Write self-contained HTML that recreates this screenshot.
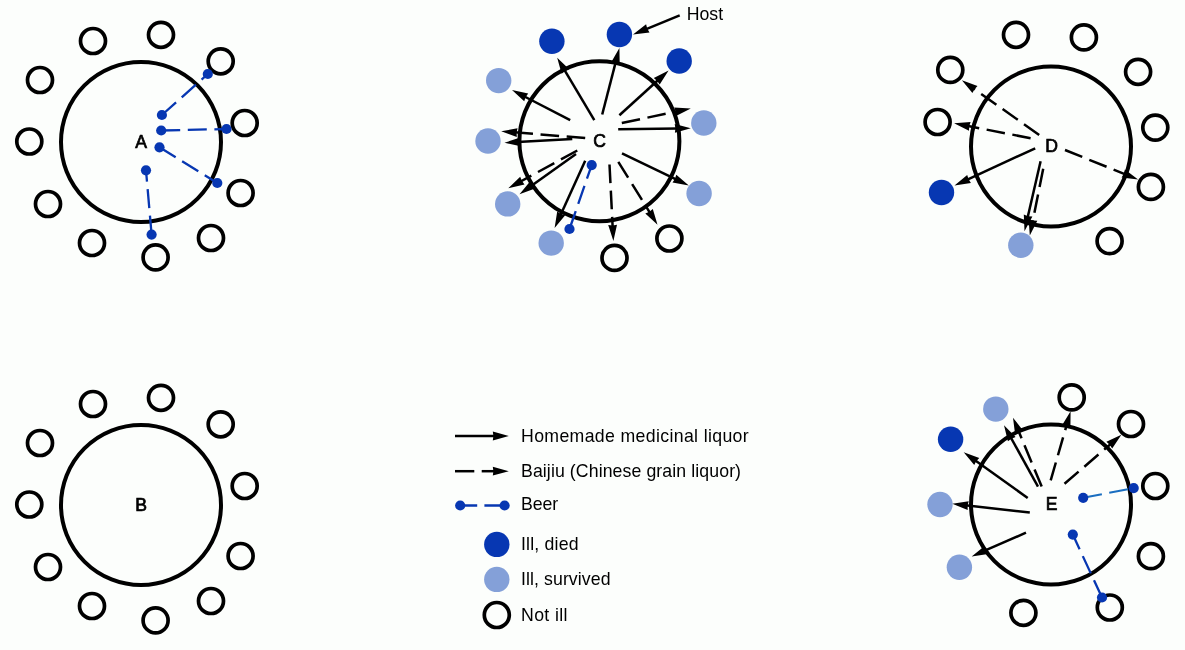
<!DOCTYPE html>
<html><head><meta charset="utf-8"><style>
html,body{margin:0;padding:0;background:#fcfefc;}
svg{display:block;will-change:transform;}
.lb{font-family:"Liberation Sans",sans-serif;font-weight:normal;font-size:17.6px;text-anchor:middle;fill:#000;stroke:#000;stroke-width:0.7px;}
.tx{font-family:"Liberation Sans",sans-serif;font-size:17.7px;fill:#000;}
</style></head><body>
<svg width="1185" height="650" viewBox="0 0 1185 650">
<rect width="1185" height="650" fill="#fcfefc"/>
<circle cx="141" cy="142" r="80" fill="none" stroke="#000" stroke-width="4"/>
<circle cx="93" cy="41" r="12.5" fill="none" stroke="#000" stroke-width="3.7"/>
<circle cx="161" cy="34.8" r="12.5" fill="none" stroke="#000" stroke-width="3.7"/>
<circle cx="220.7" cy="61.3" r="12.5" fill="none" stroke="#000" stroke-width="3.7"/>
<circle cx="244.7" cy="123" r="12.5" fill="none" stroke="#000" stroke-width="3.7"/>
<circle cx="240.6" cy="193" r="12.5" fill="none" stroke="#000" stroke-width="3.7"/>
<circle cx="211" cy="238" r="12.5" fill="none" stroke="#000" stroke-width="3.7"/>
<circle cx="155.6" cy="257.4" r="12.5" fill="none" stroke="#000" stroke-width="3.7"/>
<circle cx="92" cy="243" r="12.5" fill="none" stroke="#000" stroke-width="3.7"/>
<circle cx="48" cy="204" r="12.5" fill="none" stroke="#000" stroke-width="3.7"/>
<circle cx="29.3" cy="141.5" r="12.5" fill="none" stroke="#000" stroke-width="3.7"/>
<circle cx="40" cy="80" r="12.5" fill="none" stroke="#000" stroke-width="3.7"/>
<text x="141" y="148.3" class="lb">A</text>
<line x1="161.9" y1="115" x2="207.8" y2="74" stroke="#0737B2" stroke-width="2.3" stroke-dasharray="19 7.6"/>
<circle cx="161.9" cy="115" r="5.1" fill="#0737B2"/>
<circle cx="207.8" cy="74" r="5.1" fill="#0737B2"/>
<line x1="161.2" y1="130.5" x2="226.5" y2="129" stroke="#0737B2" stroke-width="2.3" stroke-dasharray="19 7.6"/>
<circle cx="161.2" cy="130.5" r="5.1" fill="#0737B2"/>
<circle cx="226.5" cy="129" r="5.1" fill="#0737B2"/>
<line x1="159.5" y1="147.3" x2="217.3" y2="183" stroke="#0737B2" stroke-width="2.3" stroke-dasharray="19 7.6"/>
<circle cx="159.5" cy="147.3" r="5.1" fill="#0737B2"/>
<circle cx="217.3" cy="183" r="5.1" fill="#0737B2"/>
<line x1="151.6" y1="234.6" x2="146" y2="170.3" stroke="#0737B2" stroke-width="2.3" stroke-dasharray="19 7.6"/>
<circle cx="146" cy="170.3" r="5.1" fill="#0737B2"/>
<circle cx="151.6" cy="234.6" r="5.1" fill="#0737B2"/>
<circle cx="141" cy="505" r="80" fill="none" stroke="#000" stroke-width="4"/>
<circle cx="93" cy="404" r="12.5" fill="none" stroke="#000" stroke-width="3.7"/>
<circle cx="161" cy="397.8" r="12.5" fill="none" stroke="#000" stroke-width="3.7"/>
<circle cx="220.7" cy="424.3" r="12.5" fill="none" stroke="#000" stroke-width="3.7"/>
<circle cx="244.7" cy="486" r="12.5" fill="none" stroke="#000" stroke-width="3.7"/>
<circle cx="240.6" cy="556" r="12.5" fill="none" stroke="#000" stroke-width="3.7"/>
<circle cx="211" cy="601" r="12.5" fill="none" stroke="#000" stroke-width="3.7"/>
<circle cx="155.6" cy="620.4" r="12.5" fill="none" stroke="#000" stroke-width="3.7"/>
<circle cx="92" cy="606" r="12.5" fill="none" stroke="#000" stroke-width="3.7"/>
<circle cx="48" cy="567" r="12.5" fill="none" stroke="#000" stroke-width="3.7"/>
<circle cx="29.3" cy="504.5" r="12.5" fill="none" stroke="#000" stroke-width="3.7"/>
<circle cx="40" cy="443" r="12.5" fill="none" stroke="#000" stroke-width="3.7"/>
<text x="141" y="511.3" class="lb">B</text>
<circle cx="599.4" cy="141.3" r="80" fill="none" stroke="#000" stroke-width="4"/>
<circle cx="551.9" cy="41.2" r="12.7" fill="#0737B2"/>
<circle cx="619.4" cy="34.5" r="12.7" fill="#0737B2"/>
<circle cx="679.2" cy="61" r="12.7" fill="#0737B2"/>
<circle cx="498.7" cy="80.6" r="12.7" fill="#84A0D8"/>
<circle cx="488" cy="141" r="12.7" fill="#84A0D8"/>
<circle cx="703.8" cy="123" r="12.7" fill="#84A0D8"/>
<circle cx="699.1" cy="193.5" r="12.7" fill="#84A0D8"/>
<circle cx="507.7" cy="203.9" r="12.7" fill="#84A0D8"/>
<circle cx="551.2" cy="243.1" r="12.7" fill="#84A0D8"/>
<circle cx="669.4" cy="238.5" r="12.5" fill="none" stroke="#000" stroke-width="3.7"/>
<circle cx="614.5" cy="257.9" r="12.5" fill="none" stroke="#000" stroke-width="3.7"/>
<text x="599.5" y="147" class="lb">C</text>
<line x1="594.3" y1="120.2" x2="563.8" y2="68.9" stroke="#000" stroke-width="2.5"/>
<polygon points="557.2,57.7 569.2,69.2 565.1,70.9 561.6,73.7" fill="#000"/>
<line x1="570.2" y1="120.2" x2="523.5" y2="96.0" stroke="#000" stroke-width="2.5"/>
<polygon points="512.0,90.0 528.2,93.5 525.7,97.1 524.2,101.3" fill="#000"/>
<line x1="585.2" y1="138.0" x2="514.2" y2="132.3" stroke="#000" stroke-width="2.5" stroke-dasharray="18.6 7.6"/>
<polygon points="501.2,131.3 517.5,128.2 516.6,132.5 516.8,137.0" fill="#000"/>
<line x1="572.3" y1="139.1" x2="517.5" y2="142.1" stroke="#000" stroke-width="2.5"/>
<polygon points="504.5,142.8 520.2,137.5 519.9,142.0 520.7,146.3" fill="#000"/>
<line x1="602.2" y1="114.5" x2="616.1" y2="60.6" stroke="#000" stroke-width="2.5"/>
<polygon points="619.4,48.0 619.7,64.6 615.5,62.9 611.1,62.4" fill="#000"/>
<line x1="619.4" y1="115.2" x2="659.0" y2="79.3" stroke="#000" stroke-width="2.5"/>
<polygon points="668.6,70.6 659.7,84.6 657.2,80.9 653.8,78.1" fill="#000"/>
<line x1="621.8" y1="123.0" x2="678.1" y2="111.2" stroke="#000" stroke-width="2.5" stroke-dasharray="18.6 7.6"/>
<polygon points="690.8,108.5 676.0,116.1 675.7,111.7 674.2,107.5" fill="#000"/>
<line x1="618.2" y1="129.2" x2="677.8" y2="128.4" stroke="#000" stroke-width="2.5"/>
<polygon points="690.8,128.2 674.9,132.8 675.4,128.4 674.7,124.0" fill="#000"/>
<line x1="577.3" y1="150.5" x2="519.7" y2="182.0" stroke="#000" stroke-width="2.5" stroke-dasharray="18.6 7.6"/>
<polygon points="508.3,188.2 520.2,176.7 521.8,180.8 524.5,184.4" fill="#000"/>
<line x1="576.0" y1="154.1" x2="530.1" y2="186.7" stroke="#000" stroke-width="2.5"/>
<polygon points="519.5,194.2 530.0,181.4 532.1,185.3 535.1,188.5" fill="#000"/>
<line x1="585.2" y1="160.8" x2="560.0" y2="216.2" stroke="#000" stroke-width="2.5"/>
<polygon points="554.6,228.0 557.2,211.6 561.0,214.0 565.2,215.3" fill="#000"/>
<line x1="609.5" y1="164.5" x2="612.7" y2="227.9" stroke="#000" stroke-width="2.5" stroke-dasharray="18.6 7.6"/>
<polygon points="613.4,240.9 608.2,225.1 612.6,225.5 617.0,224.7" fill="#000"/>
<line x1="618.3" y1="161.9" x2="650.6" y2="213.8" stroke="#000" stroke-width="2.5" stroke-dasharray="18.6 7.6"/>
<polygon points="657.5,224.8 645.3,213.5 649.4,211.7 652.8,208.9" fill="#000"/>
<line x1="622.0" y1="153.3" x2="677.1" y2="179.9" stroke="#000" stroke-width="2.5"/>
<polygon points="688.8,185.6 672.5,182.6 674.9,178.9 676.3,174.7" fill="#000"/>
<line x1="569.5" y1="229" x2="591.7" y2="165.1" stroke="#0737B2" stroke-width="2.3" stroke-dasharray="19 7.6"/>
<circle cx="591.7" cy="165.1" r="5.1" fill="#0737B2"/>
<circle cx="569.5" cy="229" r="5.1" fill="#0737B2"/>
<line x1="679.7" y1="15.3" x2="645.0" y2="29.6" stroke="#000" stroke-width="2.5"/>
<polygon points="633.0,34.5 646.1,24.3 647.2,28.6 649.5,32.5" fill="#000"/>
<text x="686.7" y="19.7" class="tx">Host</text>
<circle cx="1051" cy="146.5" r="80" fill="none" stroke="#000" stroke-width="4"/>
<circle cx="1016" cy="34.8" r="12.5" fill="none" stroke="#000" stroke-width="3.7"/>
<circle cx="1083.9" cy="37.4" r="12.5" fill="none" stroke="#000" stroke-width="3.7"/>
<circle cx="1138.1" cy="71.8" r="12.5" fill="none" stroke="#000" stroke-width="3.7"/>
<circle cx="1155.3" cy="127.6" r="12.5" fill="none" stroke="#000" stroke-width="3.7"/>
<circle cx="1150.9" cy="186.9" r="12.5" fill="none" stroke="#000" stroke-width="3.7"/>
<circle cx="1109.6" cy="241.1" r="12.5" fill="none" stroke="#000" stroke-width="3.7"/>
<circle cx="937.6" cy="122" r="12.5" fill="none" stroke="#000" stroke-width="3.7"/>
<circle cx="950.3" cy="69.9" r="12.5" fill="none" stroke="#000" stroke-width="3.7"/>
<circle cx="941.5" cy="192.5" r="12.7" fill="#0737B2"/>
<circle cx="1020.8" cy="245.2" r="12.7" fill="#84A0D8"/>
<text x="1051.5" y="152" class="lb">D</text>
<line x1="1039.2" y1="134.9" x2="972.5" y2="87.8" stroke="#000" stroke-width="2.5" stroke-dasharray="18.6 7.6"/>
<polygon points="961.9,80.3 977.5,85.9 974.5,89.2 972.4,93.1" fill="#000"/>
<line x1="1030.6" y1="138.2" x2="966.9" y2="125.8" stroke="#000" stroke-width="2.5" stroke-dasharray="18.6 7.6"/>
<polygon points="954.1,123.3 970.6,122.0 969.2,126.2 969.0,130.7" fill="#000"/>
<line x1="1035.2" y1="148.3" x2="966.3" y2="180.1" stroke="#000" stroke-width="2.5"/>
<polygon points="954.5,185.6 967.2,174.9 968.5,179.1 970.9,182.9" fill="#000"/>
<line x1="1040.6" y1="161.2" x2="1027.4" y2="218.5" stroke="#000" stroke-width="2.5"/>
<polygon points="1024.5,231.2 1023.8,214.6 1028.0,216.2 1032.4,216.6" fill="#000"/>
<line x1="1043.2" y1="168.8" x2="1032.4" y2="222.8" stroke="#000" stroke-width="2.5" stroke-dasharray="18.6 7.6"/>
<polygon points="1029.8,235.5 1028.6,218.9 1032.8,220.4 1037.3,220.7" fill="#000"/>
<line x1="1065.0" y1="150.0" x2="1126.0" y2="174.6" stroke="#000" stroke-width="2.5" stroke-dasharray="18.6 7.6"/>
<polygon points="1138.1,179.5 1121.6,177.6 1123.8,173.7 1124.9,169.4" fill="#000"/>
<circle cx="1051" cy="504.5" r="80" fill="none" stroke="#000" stroke-width="4"/>
<circle cx="1071.7" cy="397.4" r="12.5" fill="none" stroke="#000" stroke-width="3.7"/>
<circle cx="1131" cy="424" r="12.5" fill="none" stroke="#000" stroke-width="3.7"/>
<circle cx="1155.3" cy="486" r="12.5" fill="none" stroke="#000" stroke-width="3.7"/>
<circle cx="1150.9" cy="556.2" r="12.5" fill="none" stroke="#000" stroke-width="3.7"/>
<circle cx="1109.8" cy="607.5" r="12.5" fill="none" stroke="#000" stroke-width="3.7"/>
<circle cx="1023.4" cy="612.8" r="12.5" fill="none" stroke="#000" stroke-width="3.7"/>
<circle cx="995.8" cy="409.1" r="12.7" fill="#84A0D8"/>
<circle cx="959.4" cy="567.2" r="12.7" fill="#84A0D8"/>
<circle cx="940" cy="504.5" r="12.7" fill="#84A0D8"/>
<circle cx="950.6" cy="439.2" r="12.7" fill="#0737B2"/>
<text x="1051.5" y="510" class="lb">E</text>
<line x1="1027.7" y1="498.0" x2="974.3" y2="459.8" stroke="#000" stroke-width="2.5"/>
<polygon points="963.7,452.2 979.3,457.9 976.2,461.2 974.2,465.1" fill="#000"/>
<line x1="1038.0" y1="486.6" x2="1010.3" y2="436.6" stroke="#000" stroke-width="2.5"/>
<polygon points="1004.0,425.2 1015.6,437.1 1011.5,438.7 1007.9,441.3" fill="#000"/>
<line x1="1041.7" y1="486.6" x2="1018.0" y2="429.7" stroke="#000" stroke-width="2.5" stroke-dasharray="18.6 7.6"/>
<polygon points="1013.0,417.7 1023.2,430.8 1018.9,431.9 1015.1,434.2" fill="#000"/>
<line x1="1029.8" y1="512.5" x2="965.2" y2="505.3" stroke="#000" stroke-width="2.5"/>
<polygon points="952.3,503.8 968.7,501.2 967.6,505.5 967.7,510.0" fill="#000"/>
<line x1="1050.7" y1="480.4" x2="1067.0" y2="423.8" stroke="#000" stroke-width="2.5" stroke-dasharray="18.6 7.6"/>
<polygon points="1070.6,411.3 1070.4,427.9 1066.3,426.1 1061.9,425.5" fill="#000"/>
<line x1="1064.5" y1="483.8" x2="1111.6" y2="443.2" stroke="#000" stroke-width="2.5" stroke-dasharray="18.6 7.6"/>
<polygon points="1121.4,434.7 1112.2,448.5 1109.7,444.8 1106.4,441.8" fill="#000"/>
<line x1="1026.0" y1="532.7" x2="983.6" y2="551.2" stroke="#000" stroke-width="2.5"/>
<polygon points="971.7,556.4 984.6,546.0 985.8,550.2 988.1,554.0" fill="#000"/>
<line x1="1083.2" y1="497.8" x2="1133.7" y2="488.1" stroke="#1A6EC0" stroke-width="2.1" stroke-dasharray="19 7.5"/>
<circle cx="1083.2" cy="497.8" r="5.1" fill="#0737B2"/>
<circle cx="1133.7" cy="488.1" r="5.1" fill="#0737B2"/>
<line x1="1102" y1="597.5" x2="1072.8" y2="534.6" stroke="#0737B2" stroke-width="2.3" stroke-dasharray="19 7.6"/>
<circle cx="1072.8" cy="534.6" r="5.1" fill="#0737B2"/>
<circle cx="1102" cy="597.5" r="5.1" fill="#0737B2"/>
<line x1="455.0" y1="436.0" x2="495.8" y2="436.0" stroke="#000" stroke-width="2.5"/>
<polygon points="508.8,436.0 492.8,440.4 493.4,436.0 492.8,431.6" fill="#000"/>
<line x1="455" y1="471.2" x2="474.3" y2="471.2" stroke="#000" stroke-width="2.5"/>
<line x1="481.7" y1="471.2" x2="495.8" y2="471.2" stroke="#000" stroke-width="2.5"/>
<polygon points="508.8,471.2 492.8,475.6 493.4,471.2 492.8,466.8" fill="#000"/>
<line x1="460.2" y1="505.5" x2="477.2" y2="505.5" stroke="#0737B2" stroke-width="2.5"/>
<line x1="484.4" y1="505.5" x2="504.6" y2="505.5" stroke="#0737B2" stroke-width="2.5"/>
<circle cx="460.2" cy="505.5" r="5.1" fill="#0737B2"/>
<circle cx="504.6" cy="505.5" r="5.1" fill="#0737B2"/>
<circle cx="496.8" cy="544.4" r="12.7" fill="#0737B2"/>
<circle cx="496.8" cy="579.4" r="12.7" fill="#84A0D8"/>
<circle cx="496.8" cy="615" r="12.5" fill="none" stroke="#000" stroke-width="3.7"/>
<text x="521" y="442.1" class="tx" textLength="227.7" lengthAdjust="spacing">Homemade medicinal liquor</text>
<text x="521" y="477.2" class="tx" textLength="220" lengthAdjust="spacing">Baijiu (Chinese grain liquor)</text>
<text x="521" y="510.3" class="tx" textLength="37.2" lengthAdjust="spacing">Beer</text>
<text x="521" y="549.5" class="tx" textLength="57.6" lengthAdjust="spacing">Ill, died</text>
<text x="521" y="584.6" class="tx" textLength="89.5" lengthAdjust="spacing">Ill, survived</text>
<text x="521" y="621.1" class="tx" textLength="46.4" lengthAdjust="spacing">Not ill</text>
</svg></body></html>
